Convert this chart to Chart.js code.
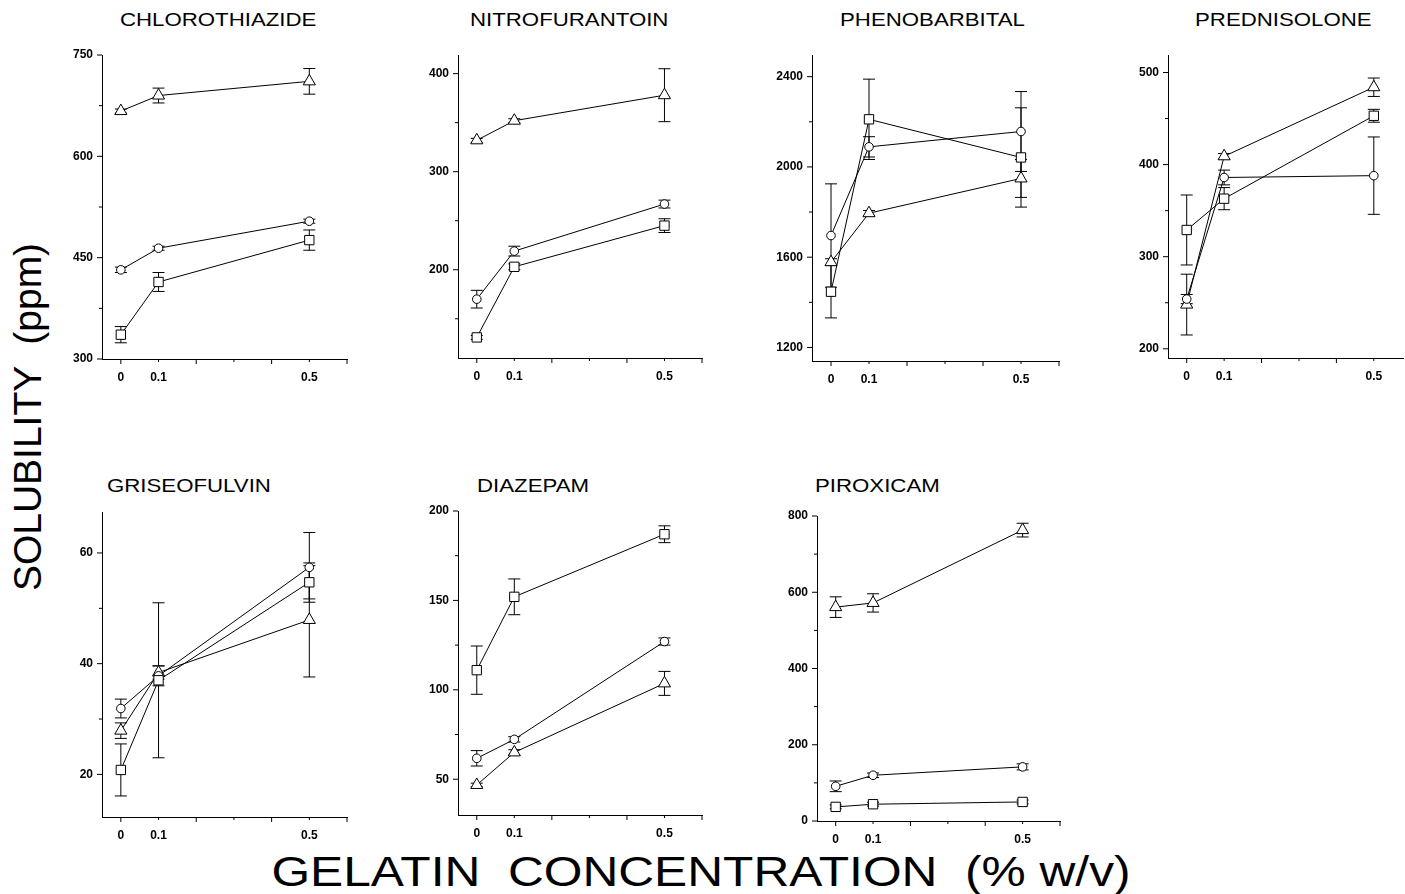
<!DOCTYPE html>
<html lang="en">
<head>
  <meta charset="UTF-8">
  <title>Solubility vs gelatin concentration</title>
  <script src="https://cdn.jsdelivr.net/npm/chart.js"></script>
  <style>
    body {
      margin: 0;
      background: #fff;
      font-family: "Liberation Sans", Arial, sans-serif;
    }
    #page {
      position: relative;
      width: 1405px;
      height: 894px;
      overflow: hidden;
      background: #fff;
    }
    .panel {
      position: absolute;
    }
    .title {
      position: absolute;
      font-size: 19px;
      line-height: 19px;
      color: #000;
      white-space: nowrap;
      transform-origin: 0 50%;
      transform: scaleX(1.17);
    }
    .big-label {
      position: absolute;
      font-size: 39px;
      line-height: 40px;
      color: #000;
      white-space: pre;
    }
    #ylabel {
      left: 28px;
      top: 417px;
      transform: translate(-50%, -50%) rotate(-90deg);
    }
    #xlabel {
      left: 701px;
      top: 871px;
      font-size: 43px;
      transform: translate(-50%, -50%) scaleX(1.155);
    }
  </style>
</head>
<body>

<div id="page">
  <div class="big-label" id="ylabel">SOLUBILITY  (ppm)</div>
  <div class="big-label" id="xlabel">GELATIN  CONCENTRATION  (% w/v)</div>
</div>

<script>
  // x values shared by all panels (% w/v gelatin)
  const concentration = [0, 0.1, 0.5];
  const xTickLabels = ['0', '0.1', '0.5'];
  const xMajorTicks = [0, 0.2, 0.4, 0.6];
  const xMinorTicks = [0.1, 0.3, 0.5];

  // CHLOROTHIAZIDE
  const chloroSquare = [336, 414, 476];
  const chloroSquareErr = [12, 14, 15];
  const chloroCircle = [432, 464, 504];
  const chloroCircleErr = [4, 3, 3];
  const chloroTriangle = [667, 690, 711];
  const chloroTriangleErr = [3, 11, 19];
  const chloroYTicks = [300, 450, 600, 750];

  // NITROFURANTOIN
  const nitroSquare = [131, 203, 245];
  const nitroSquareErr = [2, 3, 7];
  const nitroCircle = [170, 219, 267];
  const nitroCircleErr = [9, 5, 4];
  const nitroTriangle = [332, 352, 378];
  const nitroTriangleErr = [2, 2, 27];
  const nitroYTicks = [200, 300, 400];

  // PHENOBARBITAL
  const phenoSquare = [1447, 2211, 2042];
  const phenoSquareErr = [116, 178, 220];
  const phenoCircle = [1696, 2089, 2157];
  const phenoCircleErr = [229, 45, 177];
  const phenoTriangle = [1578, 1795, 1949];
  const phenoTriangleErr = [15, 12, 84];
  const phenoYTicks = [1200, 1600, 2000, 2400];

  // PREDNISOLONE
  const predSquare = [329, 363, 453];
  const predSquareErr = [38, 12, 7];
  const predCircle = [254, 386, 388];
  const predCircleErr = [5, 8, 42];
  const predTriangle = [248, 409, 484];
  const predTriangleErr = [33, 3, 10];
  const predYTicks = [200, 300, 400, 500];

  // GRISEOFULVIN
  const griseoSquare = [20.8, 37.0, 54.7];
  const griseoSquareErr = [4.7, 14, 3];
  const griseoCircle = [31.9, 37.8, 57.4];
  const griseoCircleErr = [1.7, 1.8, 6.3];
  const griseoTriangle = [27.9, 38.4, 47.9];
  const griseoTriangleErr = [1.4, 1.2, 10.3];
  const griseoYTicks = [20, 40, 60];

  // DIAZEPAM
  const diazSquare = [111, 152, 187];
  const diazSquareErr = [13.5, 10, 4.7];
  const diazCircle = [61.7, 72.3, 127];
  const diazCircleErr = [4.3, 1.5, 2];
  const diazTriangle = [46.8, 65, 103.6];
  const diazTriangleErr = [1, 1.5, 6.7];
  const diazYTicks = [50, 100, 150, 200];

  // PIROXICAM
  const piroxSquare = [37, 44, 50];
  const piroxSquareErr = [5, 5, 5];
  const piroxCircle = [91, 120, 142];
  const piroxCircleErr = [14, 6, 8];
  const piroxTriangle = [561, 572, 763];
  const piroxTriangleErr = [27, 24, 18];
  const piroxYTicks = [0, 200, 400, 600, 800];

  // panel geometry: chart area box in page pixels + axis range
  const panels = [
    { title: 'CHLOROTHIAZIDE', tx: 120, ty: 10, box: [102, 55, 347, 359], y: [300, 750], ticks: chloroYTicks,
      sq: [chloroSquare, chloroSquareErr], ci: [chloroCircle, chloroCircleErr], tr: [chloroTriangle, chloroTriangleErr] },
    { title: 'NITROFURANTOIN', tx: 470, ty: 10, box: [458, 55, 702, 358], y: [110, 419], ticks: nitroYTicks,
      sq: [nitroSquare, nitroSquareErr], ci: [nitroCircle, nitroCircleErr], tr: [nitroTriangle, nitroTriangleErr] },
    { title: 'PHENOBARBITAL', tx: 840, ty: 10, box: [812, 55, 1059, 361], y: [1140, 2496], ticks: phenoYTicks,
      sq: [phenoSquare, phenoSquareErr], ci: [phenoCircle, phenoCircleErr], tr: [phenoTriangle, phenoTriangleErr] },
    { title: 'PREDNISOLONE', tx: 1195, ty: 10, box: [1168, 55, 1403, 358], y: [190, 519], ticks: predYTicks, xMax: 0.578,
      sq: [predSquare, predSquareErr], ci: [predCircle, predCircleErr], tr: [predTriangle, predTriangleErr] },
    { title: 'GRISEOFULVIN', tx: 107, ty: 476, box: [102, 512, 347, 817], y: [12.3, 67.4], ticks: griseoYTicks,
      sq: [griseoSquare, griseoSquareErr], ci: [griseoCircle, griseoCircleErr], tr: [griseoTriangle, griseoTriangleErr] },
    { title: 'DIAZEPAM', tx: 477, ty: 476, box: [458, 511, 702, 815], y: [30, 200], ticks: diazYTicks,
      sq: [diazSquare, diazSquareErr], ci: [diazCircle, diazCircleErr], tr: [diazTriangle, diazTriangleErr] },
    { title: 'PIROXICAM', tx: 815, ty: 476, box: [817, 516, 1060, 821], y: [0, 800], ticks: piroxYTicks,
      sq: [piroxSquare, piroxSquareErr], ci: [piroxCircle, piroxCircleErr], tr: [piroxTriangle, piroxTriangleErr] }
  ];

  const Y_AXIS_W = 50;
  const X_AXIS_H = 30;
  const PAD = 10;
  const tickFont = { family: '"Liberation Sans", Arial, sans-serif', size: 12, weight: 'bold' };

  // vertical error bars, drawn under the markers
  const errorBars = {
    id: 'errorBars',
    beforeDatasetsDraw(chart) {
      const ctx = chart.ctx;
      const xs = chart.scales.x, ys = chart.scales.y;
      ctx.save();
      ctx.strokeStyle = '#000';
      ctx.lineWidth = 1;
      chart.data.datasets.forEach(ds => {
        ds.data.forEach((pt, i) => {
          const e = ds.errors[i];
          const x = xs.getPixelForValue(pt.x);
          const y1 = ys.getPixelForValue(pt.y + e);
          const y2 = ys.getPixelForValue(pt.y - e);
          ctx.beginPath();
          ctx.moveTo(x, y1); ctx.lineTo(x, y2);
          ctx.moveTo(x - 6, y1); ctx.lineTo(x + 6, y1);
          ctx.moveTo(x - 6, y2); ctx.lineTo(x + 6, y2);
          ctx.stroke();
        });
      });
      ctx.restore();
    }
  };

  // outward tick marks, long for major, short for minor
  const tickMarks = {
    id: 'tickMarks',
    afterDraw(chart, args, opts) {
      const ctx = chart.ctx;
      const xs = chart.scales.x, ys = chart.scales.y;
      const area = chart.chartArea;
      ctx.save();
      ctx.strokeStyle = '#000';
      ctx.lineWidth = 1;
      ctx.beginPath();
      const yt = opts.yTicks;
      const step = yt[1] - yt[0];
      yt.forEach(v => {
        const p = ys.getPixelForValue(v);
        ctx.moveTo(area.left - 5, p); ctx.lineTo(area.left, p);
      });
      for (let k = -1; k < yt.length; k++) {
        const v = yt[0] + step * (k + 0.5);
        if (v < ys.min || v > ys.max) continue;
        const p = ys.getPixelForValue(v);
        ctx.moveTo(area.left - 3, p); ctx.lineTo(area.left, p);
      }
      xMajorTicks.forEach(v => {
        if (v > xs.max + 1e-9) return;
        const p = xs.getPixelForValue(v);
        ctx.moveTo(p, area.bottom); ctx.lineTo(p, area.bottom + 5);
      });
      xMinorTicks.forEach(v => {
        if (v > xs.max + 1e-9) return;
        const p = xs.getPixelForValue(v);
        ctx.moveTo(p, area.bottom); ctx.lineTo(p, area.bottom + 3);
      });
      ctx.stroke();
      ctx.restore();
    }
  };

  function series(label, pair, style, radius) {
    return {
      label: label,
      data: concentration.map((c, i) => ({ x: c, y: pair[0][i] })),
      errors: pair[1],
      borderColor: '#000',
      borderWidth: 1,
      backgroundColor: '#fff',
      pointStyle: style,
      pointRadius: radius,
      pointBorderColor: '#000',
      pointBackgroundColor: '#fff',
      pointBorderWidth: 1,
      tension: 0
    };
  }

  const page = document.getElementById('page');

  panels.forEach(p => {
    const [l, t, r, b] = p.box;
    const w = Y_AXIS_W + (r - l) + PAD;
    const h = PAD + (b - t) + X_AXIS_H;

    const title = document.createElement('div');
    title.className = 'title';
    title.style.left = p.tx + 'px';
    title.style.top = p.ty + 'px';
    title.textContent = p.title;
    page.appendChild(title);

    const holder = document.createElement('div');
    holder.className = 'panel';
    holder.style.left = (l - Y_AXIS_W) + 'px';
    holder.style.top = (t - PAD) + 'px';
    const canvas = document.createElement('canvas');
    canvas.width = w;
    canvas.height = h;
    canvas.style.width = w + 'px';
    canvas.style.height = h + 'px';
    holder.appendChild(canvas);
    page.appendChild(holder);

    new Chart(canvas, {
      type: 'line',
      data: {
        datasets: [
          series('Square', p.sq, 'rect', 6.6),
          series('Circle', p.ci, 'circle', 4.3),
          series('Triangle', p.tr, 'triangle', 7)
        ]
      },
      options: {
        responsive: false,
        animation: false,
        layout: { padding: { top: PAD, right: PAD, left: 0, bottom: 0 } },
        plugins: {
          legend: { display: false },
          tooltip: { enabled: false },
          tickMarks: { yTicks: p.ticks }
        },
        scales: {
          x: {
            type: 'linear',
            min: -0.05,
            max: p.xMax || 0.6,
            afterBuildTicks: s => { s.ticks = concentration.map(v => ({ value: v })); },
            afterFit: s => { s.height = X_AXIS_H; },
            grid: { display: false },
            border: { display: true, color: '#000', width: 1 },
            ticks: {
              autoSkip: false,
              maxRotation: 0,
              padding: 3,
              color: '#000',
              font: tickFont,
              callback: (v, i) => xTickLabels[i]
            }
          },
          y: {
            type: 'linear',
            min: p.y[0],
            max: p.y[1],
            afterBuildTicks: s => { s.ticks = p.ticks.map(v => ({ value: v })); },
            afterFit: s => { s.width = Y_AXIS_W; },
            grid: { display: false },
            border: { display: true, color: '#000', width: 1 },
            ticks: {
              autoSkip: false,
              padding: 1,
              color: '#000',
              font: tickFont,
              callback: v => String(v)
            }
          }
        }
      },
      plugins: [errorBars, tickMarks]
    });
  });
</script>

</body>
</html>
